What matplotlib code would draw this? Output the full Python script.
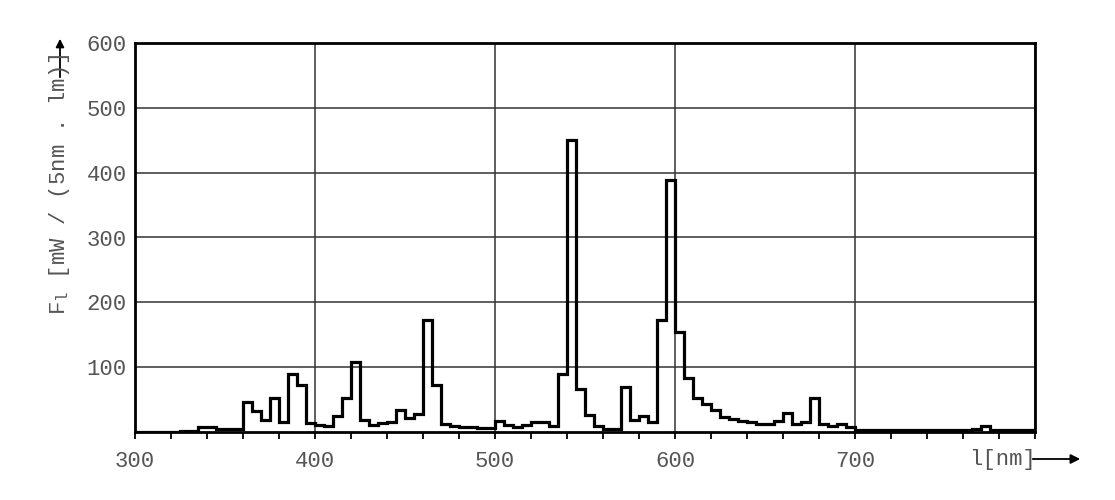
import matplotlib.pyplot as plt
import numpy as np

plt.rcParams['font.family'] = ['Liberation Mono', 'DejaVu Sans Mono']

# 5 nm bins from 300 to 800 nm
edges = np.arange(300, 805, 5)
values = [0, 0, 0, 0, 0, 1, 2, 8, 8, 5,
          4, 4, 47, 32, 18, 53, 15, 90, 72, 14,
          11, 10, 24, 53, 108, 19, 11, 14, 16, 34,
          21, 28, 173, 72, 13, 10, 8, 7, 6, 6,
          17, 11, 7, 11, 16, 16, 9, 89, 451, 66,
          26, 9, 5, 5, 70, 19, 25, 15, 173, 389,
          155, 83, 52, 43, 34, 23, 20, 17, 15, 13,
          13, 17, 29, 13, 15, 53, 13, 10, 12, 7,
          3, 3, 3, 3, 3, 3, 3, 3, 3, 3,
          3, 3, 3, 5, 10, 3, 3, 3, 3, 3]

xticks = [300, 400, 500, 600, 700]
yticks = [100, 200, 300, 400, 500, 600]
txt = '#555555'

fig = plt.figure(figsize=(11.15, 5), dpi=100)
ax = fig.add_axes([135/1115, 1 - 432/500, 900/1115, 389/500])

ax.stairs(values, edges, color='black', linewidth=2.3, baseline=0, zorder=3)

ax.set_xlim(300, 800)
ax.set_ylim(0, 600)
ax.set_xticks(xticks + [800])
ax.set_xticklabels([str(t) for t in xticks] + [''])
ax.set_xticks(np.arange(300, 801, 20), minor=True)
ax.set_yticks(yticks)
ax.set_yticklabels([str(t) for t in yticks])
ax.grid(True, color='#333333', linewidth=1.1)
ax.tick_params(axis='x', which='both', direction='out', length=5, width=1.3,
               color='black', labelsize=16, labelcolor=txt, pad=9)
ax.tick_params(axis='y', length=0, labelsize=16, labelcolor=txt, pad=6)
for s in ax.spines.values():
    s.set_linewidth(2)
    s.set_color('black')

fig.text(60/1115, 1 - 184/500, r'F$\mathregular{_l}$ [mW / (5nm . lm)]', rotation=90,
         ha='center', va='center', fontsize=16, color=txt)
fig.text(1036/1115, 1 - 460/500, 'l[nm]', ha='right', va='center',
         fontsize=16, color=txt)

# axis arrows
fig.add_artist(plt.matplotlib.patches.FancyArrowPatch(
    (1030/1115, 1 - 459/500), (1083/1115, 1 - 459/500), transform=fig.transFigure,
    arrowstyle='-|>', mutation_scale=14, color='black', linewidth=1.3))
fig.add_artist(plt.matplotlib.patches.FancyArrowPatch(
    (60/1115, 1 - 80/500), (60/1115, 1 - 36/500), transform=fig.transFigure,
    arrowstyle='-|>', mutation_scale=12, color='black', linewidth=1.3))

fig.savefig('out.png', dpi=100, facecolor='white')
